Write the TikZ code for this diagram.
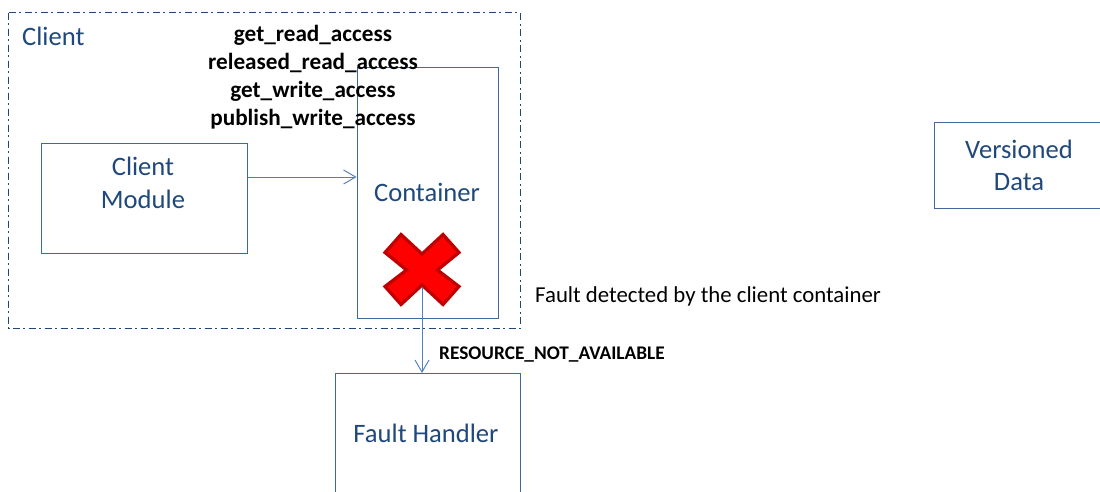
\documentclass[tikz,border=0pt]{standalone}
\usepackage{fontspec}
\setmainfont{Carlito}
\usetikzlibrary{arrows.meta}
\definecolor{boxc}{HTML}{41689C}
\definecolor{connc}{HTML}{4F81BD}
\definecolor{txtc}{HTML}{1F497D}
\definecolor{xdark}{HTML}{C00000}
\tikzset{
  box/.style={draw=boxc,line width=0.95pt,inner sep=0pt,align=center,text=txtc,font=\fontsize{26.6}{32.5}\selectfont},
  lbl/.style={text=txtc,font=\fontsize{26.6}{32.5}\selectfont,inner sep=0pt,align=center},
  opname/.style={font=\bfseries\fontsize{23.2}{25}\selectfont,text=black,inner sep=0pt,anchor=base},
  conn/.style={draw=connc,line width=0.95pt,-{Straight Barb[length=12pt,width=14pt,line width=0.95pt]}}
}
\begin{document}
\begin{tikzpicture}[x=1pt,y=-1pt]
\useasboundingbox (0,0) rectangle (1100,491);
\fill[white] (0,0) rectangle (1100,491);
\draw[draw=txtc,line width=0.95pt,dash pattern=on 7pt off 3.5pt on 2pt off 3.5pt] (8.5,12.5) rectangle (520,328.5);
\node[lbl,anchor=west] (clientlbl) at (22,36) {Client};
\node[box,minimum width=206,minimum height=110] (module) at (144.5,198.5) {};
\node[lbl] (modulelbl) at (143,183) {Client\\Module};
\node[box,minimum width=141,minimum height=251] (container) at (427.5,193) {};
\node[lbl] (contlbl) at (427,192) {Container};
\node[box,minimum width=185,minimum height=135,anchor=north west] (fault) at (335,373) {};
\node[lbl] (faultlbl) at (426,433) {Fault Handler};
\node[box,minimum width=170,minimum height=86] (vdata) at (1019,165.5) {Versioned\\Data};
\node[opname] (op1) at (313,41.5) {get\_read\_access};
\node[opname] (op2) at (313,69) {released\_read\_access};
\node[opname] (op3) at (313,97) {get\_write\_access};
\node[opname] (op4) at (313,125) {publish\_write\_access};
\coordinate (m1) at (module.east |- 0,177);
\coordinate (c1) at (container.west |- 0,177);
\draw[conn] (m1) -- (c1);
\filldraw[fill=red,draw=xdark,line width=3.2pt,line join=miter]
 (401,234.5)--(422,254)--(443,234.5)--(459,252.5)--(437.5,270)--(459,286.5)--(443,304.5)--(422,285)--(401,304.5)--(385,286.5)--(406.5,270)--(385,252.5)--cycle;
\coordinate (x0) at (422,288);
\coordinate (f0) at (x0 |- fault.north);
\draw[conn] (x0) -- (f0);
\node[anchor=base west,inner sep=0pt,font=\fontsize{22.8}{26}\selectfont,text=black] (faultnote) at (535,302.5) {Fault detected by the client container};
\node[anchor=base west,inner sep=0pt,font=\bfseries\fontsize{19.3}{22}\selectfont,text=black] (res) at (439,359.5) {RESOURCE\_NOT\_AVAILABLE};
\end{tikzpicture}
\end{document}
